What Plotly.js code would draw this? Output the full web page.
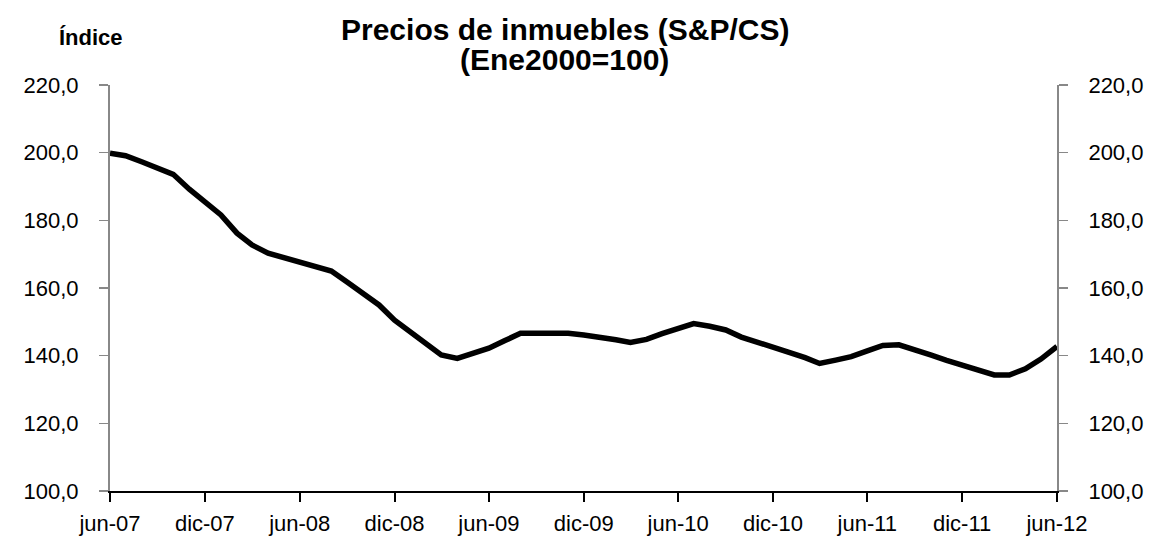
<!DOCTYPE html>
<html>
<head>
<meta charset="utf-8">
<script src="https://cdn.plot.ly/plotly-3.0.1.min.js"></script>
<style>
  body { margin: 0; background: #fff; }
  #chart { width: 1163px; height: 545px; }
</style>
</head>
<body>
<div id="chart"></div>
<script>
// S&P/Case-Shiller index, monthly jun-07 .. jun-12
const startYear = 2007;
const startMonth = 6;
const indexValues = [
  199.8, 199.1, 197.3, 195.5, 193.6, 189.2, 185.4, 181.6, 176.2, 172.7,
  170.3, 169.0, 168.0, 166.7, 165.0, 161.7, 158.2, 155.0, 150.5, 146.8,
  143.3, 140.2, 139.2, 140.6, 142.2, 144.4, 146.6, 146.6, 146.6, 146.6,
  146.1, 145.6, 144.7, 143.9, 144.8, 146.5, 148.1, 149.5, 148.7, 147.6,
  145.5, 144.1, 142.7, 141.0, 139.4, 137.7, 138.7, 139.7, 141.4, 143.0,
  143.2, 141.8, 140.2, 138.6, 137.3, 135.6, 134.3, 134.3, 136.1, 139.0,
  142.7
];
const tickDates = ['2007-06-01', '2007-12-01', '2008-06-01', '2008-12-01', '2009-06-01',
  '2009-12-01', '2010-06-01', '2010-12-01', '2011-06-01', '2011-12-01', '2012-06-01'];
const tickLabels = ['jun-07', 'dic-07', 'jun-08', 'dic-08', 'jun-09',
  'dic-09', 'jun-10', 'dic-10', 'jun-11', 'dic-11', 'jun-12'];
const yTicks = [100, 120, 140, 160, 180, 200, 220];
const titleLines = ['Precios de inmuebles (S&P/CS)', '(Ene2000=100)'];
const yLabel = 'Índice';

// month dates for the x axis
let dates = [];
for (let i = 0; i < indexValues.length; i++) {
  let m = startMonth - 1 + i;
  let yr = startYear + Math.floor(m / 12);
  let mm = (m % 12) + 1;
  dates.push(yr + '-' + (mm < 10 ? '0' + mm : mm) + '-01');
}

const font = 'Liberation Sans, Arial, sans-serif';

var trace1 = {
  x: dates,
  y: indexValues,
  mode: 'lines',
  type: 'scatter',
  line: { color: '#000', width: 5.5 },
  hoverinfo: 'skip',
  showlegend: false
};
// invisible copy so the right axis gets drawn
var trace2 = {
  x: dates,
  y: indexValues,
  yaxis: 'y2',
  mode: 'lines',
  type: 'scatter',
  line: { color: 'rgba(0,0,0,0)', width: 0 },
  hoverinfo: 'skip',
  showlegend: false
};

var yAxisBase = {
  range: [100, 220],
  tickvals: yTicks,
  tickformat: '.1f',
  showgrid: false,
  zeroline: false,
  showline: true,
  linecolor: '#888',
  linewidth: 2,
  ticks: 'outside',
  ticklen: 9,
  tickwidth: 1.5,
  tickcolor: '#888',
  ticklabelstandoff: 16,
  tickfont: { family: font, size: 22, color: '#000' },
  fixedrange: true
};

var layout = {
  width: 1163,
  height: 545,
  separators: ',.',
  margin: { l: 110, r: 106, t: 85, b: 54 },
  paper_bgcolor: '#fff',
  plot_bgcolor: '#fff',
  xaxis: {
    type: 'date',
    range: ['2007-06-01', '2012-06-01'],
    tickvals: tickDates,
    ticktext: tickLabels,
    showgrid: false,
    zeroline: false,
    showline: true,
    linecolor: '#000',
    linewidth: 2,
    ticks: 'outside',
    ticklen: 9,
    tickwidth: 2,
    tickcolor: '#000',
    ticklabelstandoff: 3,
    tickfont: { family: font, size: 22, color: '#000' },
    fixedrange: true
  },
  yaxis: Object.assign({}, yAxisBase, { side: 'left' }),
  yaxis2: Object.assign({}, yAxisBase, { side: 'right', overlaying: 'y' }),
  annotations: [
    {
      text: '<b>' + titleLines[0] + '</b>',
      xref: 'paper', yref: 'paper',
      x: 0.48, y: 1.1355,
      xanchor: 'center', yanchor: 'middle',
      showarrow: false,
      font: { family: font, size: 30, color: '#000' }
    },
    {
      text: '<b>' + titleLines[1] + '</b>',
      xref: 'paper', yref: 'paper',
      x: 0.48, y: 1.064,
      xanchor: 'center', yanchor: 'middle',
      showarrow: false,
      font: { family: font, size: 30, color: '#000' }
    },
    {
      text: '<b>' + yLabel + '</b>',
      xref: 'paper', yref: 'paper',
      x: -0.02, y: 1.116,
      xanchor: 'center', yanchor: 'middle',
      showarrow: false,
      font: { family: font, size: 22, color: '#000' }
    }
  ]
};

Plotly.newPlot('chart', [trace1, trace2], layout, { staticPlot: true, displayModeBar: false });
</script>
</body>
</html>
